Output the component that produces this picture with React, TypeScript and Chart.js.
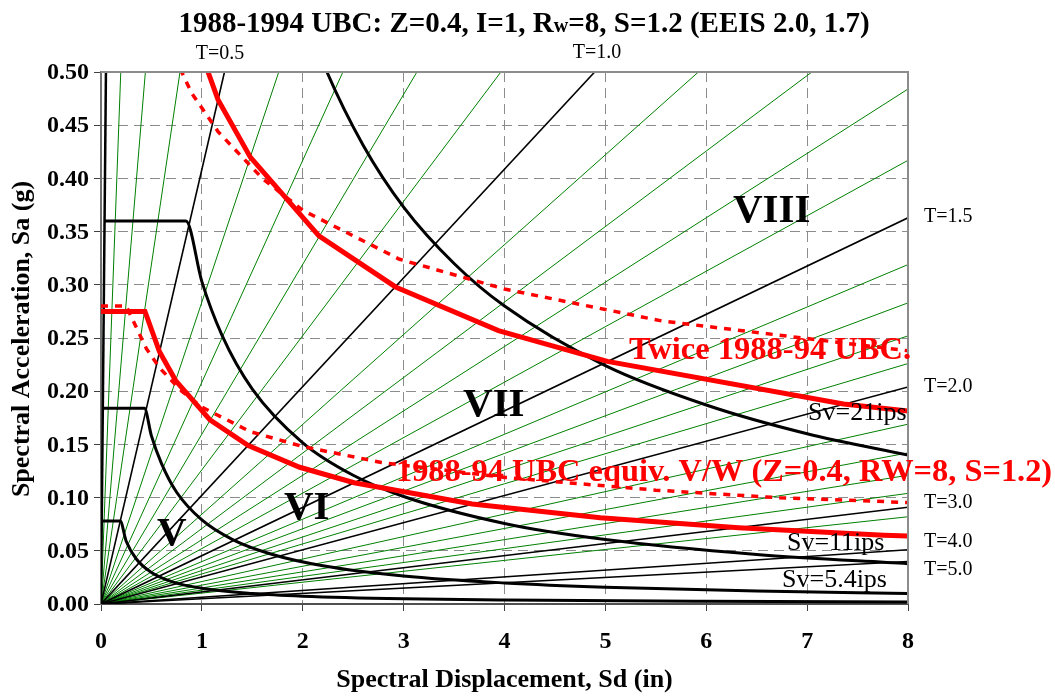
import React, { useEffect, useRef } from "react";
import { Chart, registerables } from "chart.js";

Chart.register(...registerables);

const FONT = "'Liberation Serif', 'Times New Roman', serif";

// Axis ticks
const sdTickLabels = ["0", "1", "2", "3", "4", "5", "6", "7", "8"];
const saTickLabels = ["0.00", "0.05", "0.10", "0.15", "0.20", "0.25", "0.30", "0.35", "0.40", "0.45", "0.50"];

// Constant-period radial lines: end points (Sd in, Sa g) where each leaves the plot box
const greenLineSd = [0.196, 0.44, 0.783, 1.762, 2.398, 3.132, 3.964, 5.922, 7.047, 8, 8, 8, 8, 8, 8, 8, 8, 8, 8, 8];
const greenLineSa = [0.5, 0.5, 0.5, 0.5, 0.5, 0.5, 0.5, 0.5, 0.5, 0.484, 0.417, 0.319, 0.283, 0.252, 0.226, 0.169, 0.142, 0.121, 0.104, 0.082];
const blackLineSd = [0.049, 1.224, 4.894, 8, 8, 8, 8, 8];
const blackLineSa = [0.5, 0.5, 0.5, 0.363, 0.204, 0.091, 0.051, 0.04];

// EEIS zone spectra (black)
const zoneVSd = [0.0076, 0.19, 0.25, 0.35, 0.5, 0.7, 1.0, 1.5, 2, 3, 4, 6, 8];
const zoneVSa = [0.078, 0.078, 0.059, 0.0423, 0.0296, 0.0211, 0.0148, 0.0099, 0.0074, 0.0049, 0.0037, 0.0025, 0.00185];
const zoneVISd = [0.018, 0.43, 0.5, 0.6, 0.75, 1.0, 1.3, 1.7, 2.2, 3, 4, 5, 6.5, 8];
const zoneVISa = [0.184, 0.184, 0.158, 0.132, 0.105, 0.079, 0.0608, 0.0465, 0.0359, 0.0263, 0.0198, 0.0158, 0.0122, 0.0099];
const zoneVIISd = [0.035, 0.842, 1.0, 1.2, 1.5, 2.0, 2.5, 3, 4, 5, 6.5, 8];
const zoneVIISa = [0.36, 0.36, 0.303, 0.2525, 0.202, 0.1515, 0.121, 0.101, 0.0757, 0.0606, 0.0466, 0.0379];
const zoneVIIISd = [2.0, 2.24, 2.6, 3, 3.5, 4, 5, 6, 7, 8];
const zoneVIIISa = [0.56, 0.5, 0.431, 0.373, 0.32, 0.28, 0.224, 0.187, 0.16, 0.14];

// 1988-94 UBC curves (red)
const ubcSd = [0, 0.436, 0.58, 0.74, 1.08, 1.46, 1.97, 2.51, 3.68, 4.95, 6.32, 7.76, 9.27];
const ubcSa = [0.275, 0.275, 0.237, 0.21, 0.173, 0.149, 0.1285, 0.114, 0.094, 0.081, 0.0717, 0.0647, 0.0592];
const twiceSd = [0.872, 1.16, 1.48, 2.16, 2.92, 3.94, 5.02, 7.36, 9.9];
const twiceSa = [0.55, 0.474, 0.42, 0.346, 0.298, 0.257, 0.228, 0.188, 0.162];
const ubcDotSd = [0, 0.25, 0.31, 0.45, 0.58, 0.8, 1.0, 1.48, 2.0, 2.78, 4.0, 5.5, 6.73, 8.0];
const ubcDotSa = [0.28, 0.28, 0.268, 0.24, 0.222, 0.2, 0.185, 0.162, 0.148, 0.133, 0.119, 0.107, 0.0998, 0.0954];
const twiceDotSd = [0.54, 0.64, 0.9, 1.16, 1.6, 2.0, 2.96, 4.0, 5.56, 8.0];
const twiceDotSa = [0.55, 0.532, 0.48, 0.444, 0.4, 0.37, 0.324, 0.296, 0.266, 0.238];

// Text annotations anchored in data units (left / baseline unless noted)
type Lbl = { text: string; sd: number; sa: number; size: number; bold: boolean; color: string; align: CanvasTextAlign };
const annotations: Lbl[] = [
  { text: "VIII", sd: 6.265, sa: 0.359, size: 41, bold: true, color: "#000", align: "left" },
  { text: "VII", sd: 3.589, sa: 0.1767, size: 41, bold: true, color: "#000", align: "left" },
  { text: "VI", sd: 1.814, sa: 0.0799, size: 41, bold: true, color: "#000", align: "left" },
  { text: "V", sd: 0.555, sa: 0.0559, size: 41, bold: true, color: "#000", align: "left" },
  { text: "Sv=21ips", sd: 7.009, sa: 0.1725, size: 26, bold: false, color: "#000", align: "left" },
  { text: "Sv=11ips", sd: 6.8, sa: 0.0503, size: 26, bold: false, color: "#000", align: "left" },
  { text: "Sv=5.4ips", sd: 6.751, sa: 0.016, size: 26, bold: false, color: "#000", align: "left" },
  { text: "T=1.5", sd: 8.159, sa: 0.359, size: 20, bold: false, color: "#000", align: "left" },
  { text: "T=2.0", sd: 8.159, sa: 0.1992, size: 20, bold: false, color: "#000", align: "left" },
  { text: "T=3.0", sd: 8.159, sa: 0.0902, size: 20, bold: false, color: "#000", align: "left" },
  { text: "T=4.0", sd: 8.159, sa: 0.0536, size: 20, bold: false, color: "#000", align: "left" },
  { text: "T=5.0", sd: 8.159, sa: 0.0273, size: 20, bold: false, color: "#000", align: "left" },
  { text: "T=0.5", sd: 1.18, sa: 0.5122, size: 20, bold: false, color: "#000", align: "center" },
  { text: "T=1.0", sd: 4.917, sa: 0.5132, size: 20, bold: false, color: "#000", align: "center" },
  { text: "Twice 1988-94 UBC.", sd: 5.235, sa: 0.2303, size: 32.5, bold: true, color: "#ff0000", align: "left" },
  { text: "1988-94 UBC equiv. V/W (Z=0.4, RW=8, S=1.2)", sd: 2.924, sa: 0.1156, size: 32.4, bold: true, color: "#ff0000", align: "left" },
];

const titleParts: [string, number][] = [
  ["1988-1994 UBC: Z=0.4, I=1, R", 29],
  ["w", 20],
  ["=8, S=1.2 (EEIS 2.0, 1.7)", 29],
];

const pts = (xs: number[], ys: number[]) => xs.map((x, i) => ({ x, y: ys[i] }));

const textPlugin = {
  id: "texts",
  afterDatasetsDraw(chart: any) {
    const { ctx, chartArea: a, scales } = chart;
    const x = scales.x;
    const y = scales.y;
    ctx.save();
    ctx.setLineDash([]);
    ctx.strokeStyle = "#8c8c8c";
    ctx.lineWidth = 2;
    ctx.beginPath();
    ctx.moveTo(a.left, a.top);
    ctx.lineTo(a.right, a.top);
    ctx.lineTo(a.right, a.bottom);
    ctx.stroke();

    ctx.fillStyle = "#000";
    ctx.font = `bold 24px ${FONT}`;
    ctx.textAlign = "right";
    ctx.textBaseline = "middle";
    saTickLabels.forEach((t) => ctx.fillText(t, a.left - 12, y.getPixelForValue(parseFloat(t)) + 1));
    ctx.textAlign = "center";
    ctx.textBaseline = "alphabetic";
    sdTickLabels.forEach((t) => ctx.fillText(t, x.getPixelForValue(parseFloat(t)), 648));

    annotations.forEach((l) => {
      ctx.font = `${l.bold ? "bold " : ""}${l.size}px ${FONT}`;
      ctx.fillStyle = l.color;
      ctx.textAlign = l.align;
      ctx.fillText(l.text, x.getPixelForValue(l.sd), y.getPixelForValue(l.sa));
    });

    ctx.fillStyle = "#000";
    ctx.font = `bold 26px ${FONT}`;
    ctx.textAlign = "center";
    ctx.fillText("Spectral Displacement, Sd (in)", (a.left + a.right) / 2, 687);
    ctx.save();
    ctx.translate(29, 339);
    ctx.rotate(-Math.PI / 2);
    ctx.fillText("Spectral Acceleration, Sa (g)", 0, 0);
    ctx.restore();

    // title with small "w"
    let total = 0;
    const widths = titleParts.map(([s, f]) => {
      ctx.font = `bold ${f}px ${FONT}`;
      const w = ctx.measureText(s).width;
      total += w;
      return w;
    });
    let cx = 524 - total / 2;
    ctx.textAlign = "left";
    titleParts.forEach(([s, f], i) => {
      ctx.font = `bold ${f}px ${FONT}`;
      ctx.fillText(s, cx, 32);
      cx += widths[i];
    });
    ctx.restore();
  },
};

export default function App() {
  const ref = useRef<HTMLCanvasElement>(null);
  useEffect(() => {
    document.body.style.margin = "0";
    const red = "#ff0000";
    const datasets: any[] = [];
    datasets.push({ data: pts(ubcSd, ubcSa), borderColor: red, borderWidth: 5, order: 0 });
    datasets.push({ data: pts(twiceSd, twiceSa), borderColor: red, borderWidth: 5, order: 0 });
    datasets.push({ data: pts(ubcDotSd, ubcDotSa), borderColor: red, borderWidth: 3.5, borderDash: [7, 7], order: 0 });
    datasets.push({ data: pts(twiceDotSd, twiceDotSa), borderColor: red, borderWidth: 3.5, borderDash: [7, 7], order: 0 });
    [
      [zoneVSd, zoneVSa],
      [zoneVISd, zoneVISa],
      [zoneVIISd, zoneVIISa],
      [zoneVIIISd, zoneVIIISa],
    ].forEach(([xs, ys]) =>
      datasets.push({ data: pts(xs, ys), borderColor: "#000", borderWidth: 3, cubicInterpolationMode: "monotone", order: 1 })
    );
    blackLineSd.forEach((sd, i) =>
      datasets.push({ data: [{ x: 0, y: 0 }, { x: sd, y: blackLineSa[i] }], borderColor: "#000", borderWidth: i === 0 ? 2.5 : 1.6, order: 2 })
    );
    greenLineSd.forEach((sd, i) =>
      datasets.push({ data: [{ x: 0, y: 0 }, { x: sd, y: greenLineSa[i] }], borderColor: "#008000", borderWidth: 1, order: 3 })
    );
    datasets.forEach((d) => {
      d.showLine = true;
      d.pointRadius = 0;
      d.fill = false;
    });

    const gridCommon = {
      color: "#8c8c8c",
      lineWidth: 1,
      tickLength: 7,
      tickColor: "#404040",
      tickWidth: 1,
      tickBorderDash: [],
      drawTicks: true,
    };
    const chart = new Chart(ref.current!, {
      type: "scatter",
      data: { datasets },
      options: {
        animation: false,
        responsive: false,
        devicePixelRatio: 1,
        layout: { padding: { top: 72, right: 147, left: 0, bottom: 0 } },
        plugins: { legend: { display: false }, tooltip: { enabled: false }, title: { display: false } },
        scales: {
          x: {
            type: "linear",
            min: 0,
            max: 8,
            ticks: { stepSize: 1, display: false },
            grid: gridCommon,
            border: { color: "#505050", width: 2, dash: [10, 6] },
            afterFit: (s: any) => {
              s.height = 92;
            },
          },
          y: {
            type: "linear",
            min: 0,
            max: 0.5,
            ticks: { stepSize: 0.05, display: false },
            grid: gridCommon,
            border: { color: "#707070", width: 2, dash: [10, 6] },
            afterFit: (s: any) => {
              s.width = 101;
            },
          },
        },
      } as any,
      plugins: [textPlugin],
    });
    return () => chart.destroy();
  }, []);
  return (
    <div style={{ width: 1055, height: 696 }}>
      <canvas ref={ref} width={1055} height={696} style={{ display: "block" }} />
    </div>
  );
}
